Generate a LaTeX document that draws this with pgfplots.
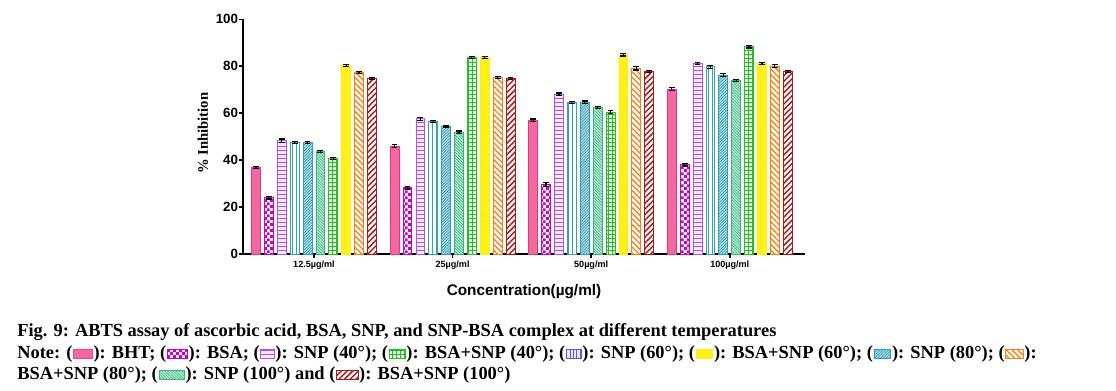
\documentclass[border=0pt]{standalone}
\usepackage{pgfplots}
\pgfplotsset{compat=1.18}
\usepackage{fontspec}
\setmainfont{Liberation Serif}
\newfontfamily\arial{Liberation Sans}
\usetikzlibrary{patterns,patterns.meta}
\pgfdeclarepatternformonly{smallchecker}{\pgfpointorigin}{\pgfqpoint{4.4pt}{4.4pt}}{\pgfqpoint{4.4pt}{4.4pt}}{%
  \pgfpathrectangle{\pgfpointorigin}{\pgfqpoint{2.2pt}{2.2pt}}%
  \pgfpathrectangle{\pgfqpoint{2.2pt}{2.2pt}}{\pgfqpoint{2.2pt}{2.2pt}}%
  \pgfusepath{fill}}
\definecolor{cBHT}{HTML}{F0327E}
\definecolor{cBSA}{HTML}{C800C8}
\definecolor{cS40}{HTML}{B650E8}
\definecolor{cS60}{HTML}{2EA3B5}
\definecolor{cS60L}{HTML}{5555F0}
\definecolor{cS80}{HTML}{2E9DB5}
\definecolor{cS100}{HTML}{2EB87A}
\definecolor{cB40}{HTML}{22C022}
\definecolor{cB60}{HTML}{FFF000}
\definecolor{cB80}{HTML}{FF7F0E}
\definecolor{cB100}{HTML}{B01818}
\tikzset{
 pBHT/.style={draw=cBHT, fill=cBHT!80, line width=0.6pt, postaction={pattern={Dots[radius=0.3pt,distance=1.5pt]}, pattern color=white}},
 pBSA/.style={draw=cBSA, fill=white, line width=0.6pt, postaction={pattern=smallchecker, pattern color=cBSA}},
 pS40/.style={draw=cS40, fill=cS40!12, line width=0.6pt, postaction={pattern={Lines[angle=0,distance=3pt,line width=0.7pt]}, pattern color=cS40}},
 pS60/.style={draw=cS60, fill=white, line width=0.7pt, postaction={pattern={Lines[angle=90,distance=3pt,line width=0.7pt]}, pattern color=cS60}},
 pS60L/.style={draw=cS60L, fill=cS60L!12, line width=0.6pt, postaction={pattern={Lines[angle=90,distance=2.5pt,line width=0.6pt]}, pattern color=cS60L}},
 pS80/.style={draw=cS80, fill=cS80!35, line width=0.6pt, postaction={pattern={Lines[angle=45,distance=1.5pt,line width=0.5pt]}, pattern color=cS80}},
 pS100/.style={draw=cS100, fill=cS100!25, line width=0.6pt, postaction={pattern={Lines[angle=-45,distance=1.5pt,line width=0.5pt]}, pattern color=cS100}},
 pB40/.style={draw=cB40, fill=cB40!10, line width=0.6pt, postaction={pattern={Hatch[angle=0,distance=3pt,line width=0.6pt]}, pattern color=cB40}},
 pB60/.style={draw=cB60, fill=cB60, line width=0.6pt, postaction={pattern={Dots[radius=0.3pt,distance=1.5pt]}, pattern color=white}},
 pB80/.style={draw=cB80, fill=white, line width=0.6pt, postaction={pattern={Lines[angle=-45,distance=3pt,line width=1pt]}, pattern color=cB80}},
 pB100/.style={draw=cB100, fill=white, line width=0.6pt, postaction={pattern={Lines[angle=45,distance=3pt,line width=1.1pt]}, pattern color=cB100}},
 captxt/.style={anchor=base west, inner sep=0pt, font=\bfseries\fontsize{13.8}{16}\selectfont},
 sw/.style={anchor=south west, inner sep=0pt, minimum width=#1, minimum height=6.75pt, yshift=-0.6pt, xshift=0.4pt},
 capn/.style={captxt, xshift=0.4pt},
}
\begin{document}
\begin{tikzpicture}
\path[use as bounding box] (0,0) rectangle (837pt,292.5pt);
\begin{axis}[
 at={(182.25pt,102pt)}, anchor=south west,
 scale only axis, width=421.5pt, height=176pt,
 xmin=-0.512, xmax=3.543, ymin=0, ymax=100,
 axis x line*=bottom, axis y line*=left,
 axis line style={line width=1.4pt, -},
 ytick={0,20,40,60,80,100},
 xtick={0,1,2,3}, xticklabels={12.5µg/ml,25µg/ml,50µg/ml,100µg/ml},
 tick align=outside, major tick length=3pt,
 tick style={black, line width=1.2pt},
 xticklabel style={font=\arial\bfseries\fontsize{6.8}{8}\selectfont, inner sep=1pt, yshift=-1pt},
 yticklabel style={font=\arial\bfseries\fontsize{10}{11}\selectfont, inner sep=0.5pt},
 /pgf/number format/assume math mode=true,
 ylabel={\% Inhibition},
 ylabel style={font=\bfseries\fontsize{11}{12}\selectfont, at={(axis description cs:-0.0712,0.515)}, anchor=center},
 xlabel={Concentration(µg/ml)},
 xlabel style={font=\arial\bfseries\fontsize{11.5}{13}\selectfont, at={(axis description cs:0.5,-0.158)}, anchor=center},
 ybar, bar width=0.064,
 every axis plot/.append style={error bars/y dir=both, error bars/y explicit, error bars/error bar style={black, line width=0.9pt, solid}, error bars/error mark options={black, line width=0.9pt, mark size=2.2pt, solid, rotate=90}},
]
\addplot[pBHT, bar shift=-0.4185] coordinates {(0,36.8) +- (0,0.5) (1,46.0) +- (0,0.5) (2,57.0) +- (0,0.5) (3,70.3) +- (0,0.5)};
\addplot[pBSA, bar shift=-0.3255] coordinates {(0,24.0) +- (0,0.6) (1,28.3) +- (0,0.6) (2,29.7) +- (0,0.8) (3,38.1) +- (0,0.6)};
\addplot[pS40, bar shift=-0.2325] coordinates {(0,48.3) +- (0,0.7) (1,57.6) +- (0,0.6) (2,68.1) +- (0,0.5) (3,81.2) +- (0,0.5)};
\addplot[pS60, bar shift=-0.1395] coordinates {(0,47.4) +- (0,0.4) (1,56.6) +- (0,0.4) (2,64.6) +- (0,0.5) (3,79.8) +- (0,0.6)};
\addplot[pS80, bar shift=-0.0465] coordinates {(0,47.4) +- (0,0.4) (1,54.5) +- (0,0.4) (2,64.6) +- (0,0.6) (3,76.3) +- (0,0.5)};
\addplot[pS100, bar shift=0.0465] coordinates {(0,43.6) +- (0,0.4) (1,51.9) +- (0,0.5) (2,62.4) +- (0,0.5) (3,73.9) +- (0,0.5)};
\addplot[pB40, bar shift=0.1395] coordinates {(0,40.8) +- (0,0.4) (1,83.7) +- (0,0.5) (2,60.4) +- (0,0.6) (3,88.4) +- (0,0.6)};
\addplot[pB60, bar shift=0.2325] coordinates {(0,80.4) +- (0,0.4) (1,83.7) +- (0,0.5) (2,85.0) +- (0,0.6) (3,81.2) +- (0,0.5)};
\addplot[pB80, bar shift=0.3255] coordinates {(0,77.2) +- (0,0.4) (1,75.3) +- (0,0.4) (2,79.1) +- (0,0.7) (3,80.1) +- (0,0.5)};
\addplot[pB100, bar shift=0.4185] coordinates {(0,74.7) +- (0,0.5) (1,74.7) +- (0,0.5) (2,77.7) +- (0,0.5) (3,77.7) +- (0,0.5)};
\end{axis}
\node[captxt] at (12.75pt,40.5pt) {Fig. 9: ABTS assay of ascorbic acid, BSA, SNP, and SNP-BSA complex at different temperatures};
% line 2
\node[captxt] (a1) at (12.75pt,24pt) {Note: (};
\node[sw=14pt,pBHT] (w1) at (a1.base east) {};
\node[capn] (a2) at (w1.east |- a1.base) {): BHT; (};
\node[sw=15pt,pBSA] (w2) at (a2.base east) {};
\node[capn] (a3) at (w2.east |- a1.base) {): BSA; (};
\node[sw=10pt,pS40] (w3) at (a3.base east) {};
\node[capn] (a4) at (w3.east |- a1.base) {): SNP (40°); (};
\node[sw=12pt,pB40] (w4) at (a4.base east) {};
\node[capn] (a5) at (w4.east |- a1.base) {): BSA+SNP (40°); (};
\node[sw=11pt,pS60L] (w5) at (a5.base east) {};
\node[capn] (a6) at (w5.east |- a1.base) {): SNP (60°); (};
\node[sw=12.5pt,pB60] (w6) at (a6.base east) {};
\node[capn] (a7) at (w6.east |- a1.base) {): BSA+SNP (60°); (};
\node[sw=12.5pt,pS80] (w7) at (a7.base east) {};
\node[capn] (a8) at (w7.east |- a1.base) {): SNP (80°); (};
\node[sw=13pt,pB80] (w8) at (a8.base east) {};
\node[capn] (a9) at (w8.east |- a1.base) {):};
% line 3
\node[captxt] (b1) at (12.75pt,8.25pt) {BSA+SNP (80°); (};
\node[sw=19pt,pS100] (v1) at (b1.base east) {};
\node[capn] (b2) at (v1.east |- b1.base) {): SNP (100°) and (};
\node[sw=16pt,pB100] (v2) at (b2.base east) {};
\node[capn] (b3) at (v2.east |- b1.base) {): BSA+SNP (100°)};
\end{tikzpicture}
\end{document}
